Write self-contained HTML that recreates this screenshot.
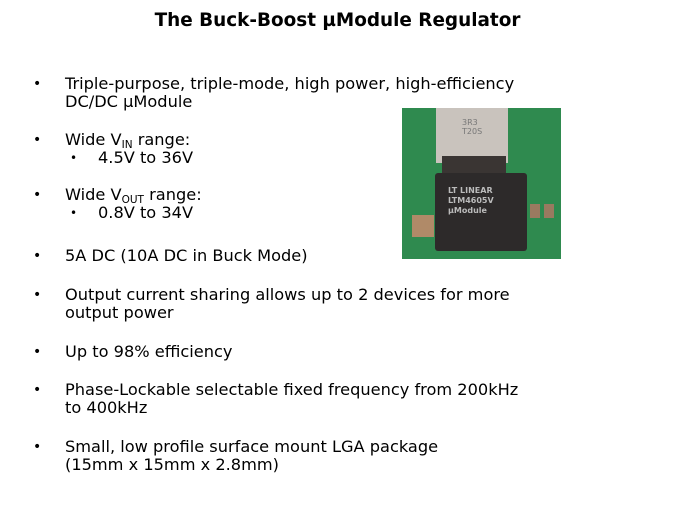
<!DOCTYPE html><html><head><style>
body{margin:0;width:675px;height:506px;background:#fff;position:relative;overflow:hidden;font-family:"DejaVu Sans",sans-serif;color:#000}
.t{position:absolute;left:0;width:675px;top:10px;text-align:center;font-weight:bold;font-size:18.4px}
.l{position:absolute;font-size:16.2px;line-height:18px;white-space:nowrap}
.b{position:absolute;left:33px;font-size:14px}
.sb{position:absolute;left:70px;font-size:12px}
sub{font-size:10.5px;vertical-align:-3px;line-height:0}
</style></head><body>
<div class="t">The Buck-Boost µModule Regulator</div>
<div class="b" style="top:76px">•</div><div class="l" style="left:65px;top:75px">Triple-purpose, triple-mode, high power, high-efficiency<br>DC/DC µModule</div>
<div class="b" style="top:132px">•</div><div class="l" style="left:65px;top:131px">Wide V<sub>IN</sub> range:</div>
<div class="sb" style="top:151px">•</div><div class="l" style="left:98px;top:149px">4.5V to 36V</div>
<div class="b" style="top:187px">•</div><div class="l" style="left:65px;top:186px">Wide V<sub>OUT</sub> range:</div>
<div class="sb" style="top:206px">•</div><div class="l" style="left:98px;top:204px">0.8V to 34V</div>
<div class="b" style="top:248px">•</div><div class="l" style="left:65px;top:247px">5A DC (10A DC in Buck Mode)</div>
<div class="b" style="top:287px">•</div><div class="l" style="left:65px;top:286px">Output current sharing allows up to 2 devices for more<br>output power</div>
<div class="b" style="top:344px">•</div><div class="l" style="left:65px;top:343px">Up to 98% efficiency</div>
<div class="b" style="top:382px">•</div><div class="l" style="left:65px;top:381px">Phase-Lockable selectable fixed frequency from 200kHz<br>to 400kHz</div>
<div class="b" style="top:439px">•</div><div class="l" style="left:65px;top:438px">Small, low profile surface mount LGA package<br>(15mm x 15mm x 2.8mm)</div>
<div style="position:absolute;left:402px;top:108px;width:159px;height:151px;background:#2f8a4f">
<div style="position:absolute;left:34px;top:0;width:72px;height:55px;background:#c9c3bd"></div>
<div style="position:absolute;left:40px;top:48px;width:64px;height:18px;background:#3a3533"></div>
<div style="position:absolute;left:60px;top:10px;font-size:8px;color:#777;line-height:9px">3R3<br>T20S</div>
<div style="position:absolute;left:33px;top:65px;width:92px;height:78px;background:#2d2a2a;border-radius:3px"></div>
<div style="position:absolute;left:46px;top:78px;font-size:8px;color:#bbb;line-height:10px;font-weight:bold">LT LINEAR<br>LTM4605V<br>µModule</div>
<div style="position:absolute;left:10px;top:107px;width:22px;height:22px;background:#b08a68"></div>
<div style="position:absolute;left:128px;top:96px;width:10px;height:14px;background:#9a7a60"></div>
<div style="position:absolute;left:142px;top:96px;width:10px;height:14px;background:#9a7a60"></div>
</div>
</body></html>
